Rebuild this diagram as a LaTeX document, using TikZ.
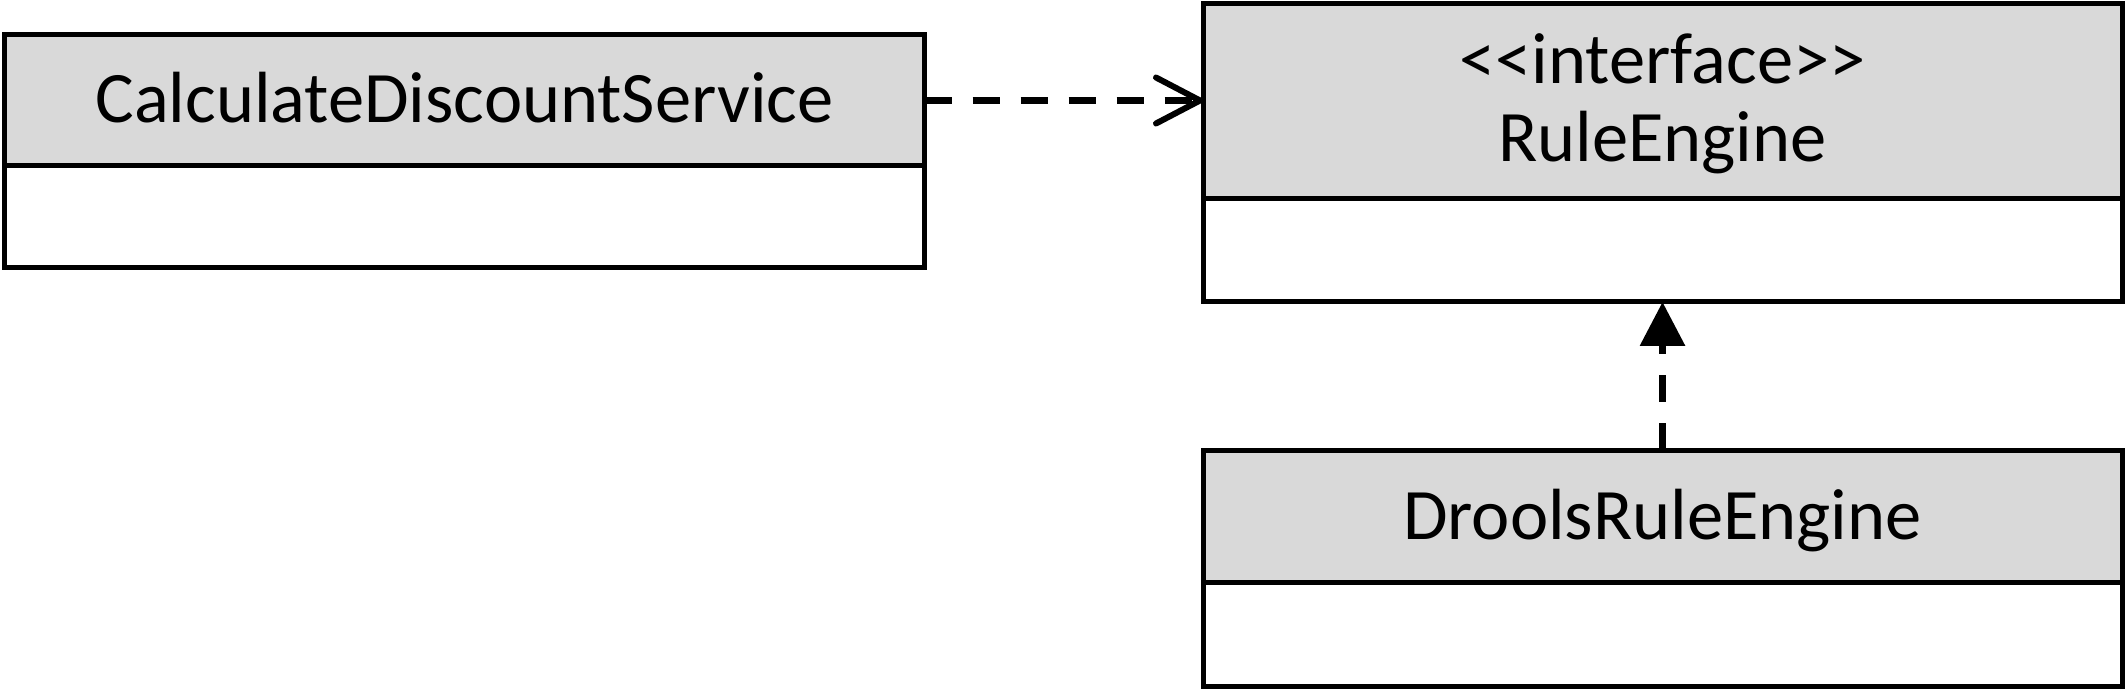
\documentclass[tikz,border=0pt]{standalone}
\usepackage{fontspec}
\setmainfont{Carlito}
\usetikzlibrary{arrows.meta}
\definecolor{hdrgray}{HTML}{D9D9D9}
\begin{document}
\begin{tikzpicture}[x=1pt,y=-1pt,
  hdr/.style={draw=black, line width=5pt, fill=hdrgray, rectangle, inner sep=0pt, outer sep=0pt},
  bdy/.style={draw=black, line width=5pt, fill=white, rectangle, inner sep=0pt, outer sep=0pt},
  lbl/.style={inner sep=0pt, outer sep=0pt, anchor=base, font=\fontsize{72.5}{78}\selectfont},
  dep/.style={line width=6.5pt, dash pattern=on 27pt off 21pt, -{Straight Barb[length=44pt, width=46pt, line width=6pt, line cap=round, line join=round]}},
  real/.style={line width=6.5pt, dash pattern=on 27pt off 21pt, -{Triangle[length=44pt, width=44pt]}}]
\useasboundingbox (0,0) rectangle (2126,692);
% CalculateDiscountService
\node[hdr, minimum width=920pt, minimum height=131pt] (cds) at (464.5,100.5) {};
\node[bdy, minimum width=920pt, minimum height=102pt] (cdsb) at (464.5,217) {};
\node[lbl] (cdst) at (464.5,123) {CalculateDiscountService};
% RuleEngine
\node[hdr, minimum width=919pt, minimum height=195pt] (re) at (1662.5,101.5) {};
\node[bdy, minimum width=919pt, minimum height=103pt] (reb) at (1662.5,250.5) {};
\node[lbl] (ret1) at (1662.5,84) {<{}<interface>{}>};
\node[lbl] (ret2) at (1662.5,162) {RuleEngine};
% DroolsRuleEngine
\node[hdr, minimum width=919pt, minimum height=132pt] (dr) at (1662.5,516) {};
\node[bdy, minimum width=919pt, minimum height=104pt] (drb) at (1662.5,634) {};
\node[lbl] (drt) at (1662.5,539) {DroolsRuleEngine};
% connectors
\draw[dep] (cds.east) -- (cds.east -| re.west);
\draw[real] (dr.north) -- (reb.south);
\end{tikzpicture}
\end{document}
